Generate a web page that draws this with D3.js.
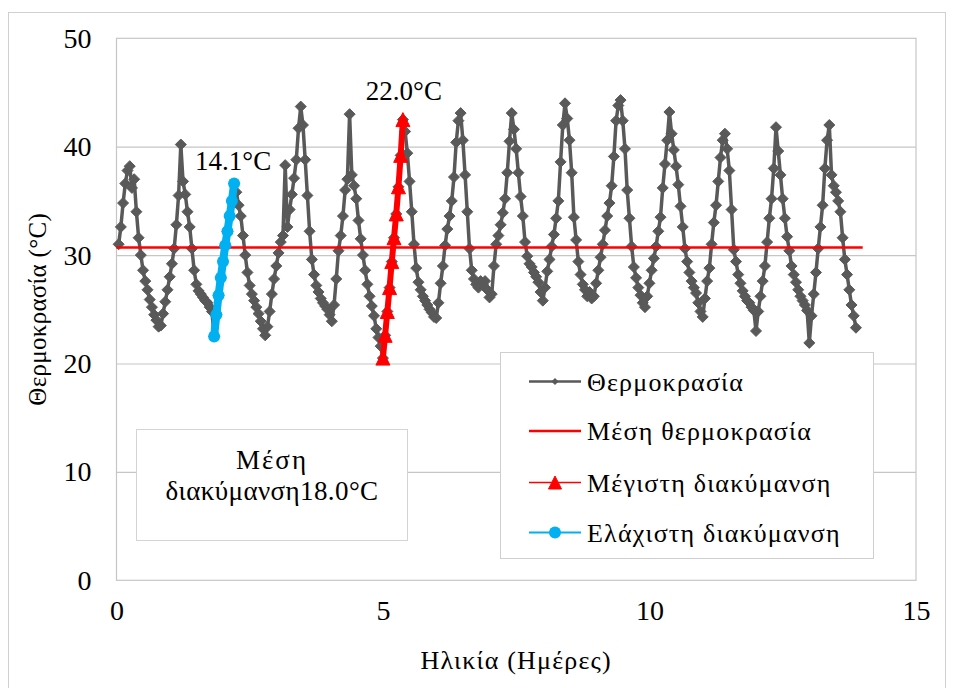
<!DOCTYPE html>
<html>
<head>
<meta charset="utf-8">
<script src="https://cdn.jsdelivr.net/npm/d3@7"></script>
<style>
  html, body { margin: 0; padding: 0; background: #ffffff; }
  svg { display: block; }
</style>
</head>
<body>
<svg id="chart" width="954" height="688"></svg>
<script>
// Hourly temperature record (°C); first reading at day 0.04, one reading per hour
const startDay = 0.04;
const stepDay = 1 / 24;
const temperature = [
  // day 0
  31.0, 32.6, 34.8, 36.6, 37.8, 38.2, 36.2, 37.0, 34.0, 31.6, 30.0, 28.6,
  27.6, 26.8, 25.9, 25.2, 24.5, 24.0, 23.4, 23.5, 24.6, 25.7, 26.8, 28.0,
  // day 1
  29.2, 30.6, 32.8, 35.5, 40.2, 36.8, 35.6, 34.0, 32.6, 30.6, 28.6, 27.3,
  26.7, 26.4, 26.1, 25.8, 25.6, 25.2, 24.8, 22.5, 24.5, 26.3, 27.9, 29.4,
  // day 2
  30.9, 32.2, 33.6, 35.0, 36.6, 35.8, 34.6, 33.6, 31.8, 30.0, 28.4, 27.2,
  26.4, 25.8, 25.2, 24.6, 23.9, 23.2, 22.6, 23.4, 24.8, 26.4, 27.8, 29.0,
  // day 3
  30.2, 31.2, 31.8, 38.3, 32.6, 34.2, 35.6, 37.1, 38.8, 41.7, 43.7, 42.0,
  38.8, 35.5, 32.2, 29.6, 28.2, 27.2, 26.6, 26.0, 25.6, 25.3, 25.0, 24.5,
  // day 4
  23.9, 25.4, 27.8, 30.4, 31.8, 33.6, 36.0, 37.0, 43.0, 37.4, 36.4, 35.2,
  33.2, 31.5, 30.0, 28.6, 27.3, 26.2, 25.3, 24.4, 23.2, 22.4, 21.6, 20.5,
  // day 5
  22.6, 24.8, 27.0, 29.4, 31.6, 33.8, 36.3, 39.2, 42.5, 41.4, 39.4, 36.8,
  34.0, 31.0, 28.8, 27.5, 26.8, 26.2, 25.8, 25.4, 25.0, 24.7, 24.3, 24.2,
  // day 6
  25.6, 27.4, 29.0, 30.9, 32.4, 33.6, 35.0, 37.2, 40.4, 42.4, 43.1, 40.6,
  37.4, 34.0, 30.6, 28.6, 27.8, 27.3, 27.0, 27.6, 27.3, 27.6, 26.8, 26.1,
  // day 7
  26.4, 29.0, 31.0, 31.8, 32.8, 33.9, 35.2, 37.6, 40.5, 43.1, 41.6, 39.8,
  37.6, 35.4, 33.6, 31.2, 29.9, 29.2, 28.9, 28.4, 28.0, 27.5, 26.6, 25.8,
  // day 8
  27.0, 28.5, 29.6, 30.8, 31.9, 33.4, 35.0, 38.6, 42.0, 44.0, 42.6, 40.6,
  37.6, 33.5, 31.4, 29.4, 28.2, 27.3, 26.8, 26.2, 26.6, 26.0, 26.2, 27.4,
  // day 9
  28.6, 29.8, 31.0, 32.3, 33.6, 34.8, 36.4, 39.1, 42.4, 43.8, 44.3, 42.4,
  39.8, 36.0, 33.4, 30.8, 28.9, 27.9, 27.0, 26.3, 25.6, 25.2, 26.2, 27.4,
  // day 10
  28.6, 29.7, 30.8, 32.2, 33.5, 36.2, 38.4, 40.6, 43.2, 41.2, 39.7, 38.2,
  36.5, 34.5, 32.6, 30.6, 29.4, 28.4, 27.6, 27.0, 26.5, 25.6, 24.8, 24.3,
  // day 11
  26.0, 27.6, 28.8, 31.0, 33.0, 34.6, 36.8, 39.0, 40.6, 41.2, 39.8, 37.8,
  34.2, 30.5, 29.4, 28.2, 27.4, 26.7, 26.2, 25.8, 25.6, 25.2, 24.9, 23.0,
  // day 12
  24.8, 26.2, 27.6, 29.0, 31.2, 33.4, 35.2, 38.0, 41.8, 39.6, 37.4, 35.2,
  33.4, 31.7, 30.4, 29.0, 28.2, 27.5, 26.8, 26.2, 25.8, 25.4, 24.9, 21.9,
  // day 13
  24.4, 26.4, 28.4, 30.6, 32.6, 34.6, 38.0, 40.6, 42.0, 37.4, 36.4, 35.8,
  35.0, 34.0, 31.6, 29.6, 28.2, 26.8, 25.4, 24.4, 23.3
];

// Mean temperature over the whole record
const meanTemp = 30.7;
const meanSpan = [0, 14];

// Day with the largest range and day with the smallest range (rising part)
const maxRangeStartHour = 119;
const maxRangeTemps = [20.5, 22.6, 24.8, 27.0, 29.4, 31.6, 33.8, 36.3, 39.2, 42.5];
const minRangeStartHour = 43;
const minRangeTemps = [22.5, 24.5, 26.3, 27.9, 29.4, 30.9, 32.2, 33.6, 35.0, 36.6];

const meanRangeLines = ["Μέση", "διακύμανση18.0°C"];

const xTicks = [0, 5, 10, 15];
const yTicks = [0, 10, 20, 30, 40, 50];
const xTitle = "Ηλικία (Ημέρες)";
const yTitle = "Θερμοκρασία (°C)";
const legendLabels = ["Θερμοκρασία", "Μέση θερμοκρασία", "Μέγιστη διακύμανση", "Ελάχιστη διακύμανση"];

// ---- colours & type ----
const GRAY = "#595959";
const RED = "#ff0000";
const BLUE = "#00b0f0";
const FRAME = "#c6c6c6";
const FONT = '"Liberation Serif", "DejaVu Serif", "Times New Roman", serif';

const svg = d3.select("#chart").attr("font-family", FONT);
const W = 954, H = 688;

svg.append("rect").attr("width", W).attr("height", H).attr("fill", "#fff");
// outer chart frame
svg.append("rect")
  .attr("x", 8.5).attr("y", 12.5).attr("width", 937).attr("height", 700)
  .attr("fill", "none").attr("stroke", "#d0d0d0").attr("stroke-width", 1);

const plot = { left: 116.5, right: 916, top: 38.3, bottom: 580.3 };

const x = d3.scaleLinear().domain([0, 15]).range([plot.left, plot.right]);
const y = d3.scaleLinear().domain([0, 50]).range([plot.bottom, plot.top]);

// horizontal gridlines
svg.append("g")
  .attr("transform", `translate(${plot.left},0)`)
  .call(d3.axisLeft(y).tickValues(yTicks.slice(1, -1)).tickSize(-(plot.right - plot.left)).tickFormat(""))
  .call(g => g.select(".domain").remove())
  .call(g => g.selectAll("line").attr("stroke", FRAME).attr("stroke-width", 1.2));

// plot frame
svg.append("rect")
  .attr("x", plot.left).attr("y", plot.top)
  .attr("width", plot.right - plot.left).attr("height", plot.bottom - plot.top)
  .attr("fill", "none").attr("stroke", FRAME).attr("stroke-width", 1.2);

// y axis labels
svg.append("g")
  .attr("transform", `translate(${plot.left},0)`)
  .call(d3.axisLeft(y).tickValues(yTicks).tickSize(0).tickPadding(25).tickFormat(d3.format("d")))
  .call(g => g.select(".domain").remove())
  .call(g => g.attr("font-family", FONT).attr("font-size", 28))
  .call(g => g.selectAll("text").attr("fill", "#000"));

// x axis labels
svg.append("g")
  .attr("transform", `translate(0,${plot.bottom})`)
  .call(d3.axisBottom(x).tickValues(xTicks).tickSize(0).tickPadding(20).tickFormat(d3.format("d")))
  .call(g => g.select(".domain").remove())
  .call(g => g.attr("font-family", FONT).attr("font-size", 28))
  .call(g => g.selectAll("text").attr("fill", "#000"));

// axis titles
svg.append("text")
  .attr("x", (plot.left + plot.right) / 2).attr("y", 669)
  .attr("text-anchor", "middle").attr("font-size", 26).attr("letter-spacing", 1.2)
  .text(xTitle);
svg.append("text")
  .attr("transform", `translate(46,${(plot.top + plot.bottom) / 2}) rotate(-90)`)
  .attr("text-anchor", "middle").attr("font-size", 25).attr("letter-spacing", 0.3)
  .text(yTitle);

// ---- series ----
const tempPts = temperature.map((v, i) => ({ d: startDay + i * stepDay, v }));
const maxPts = maxRangeTemps.map((v, i) => ({ d: startDay + (maxRangeStartHour + i) * stepDay, v }));
const minPts = minRangeTemps.map((v, i) => ({ d: startDay + (minRangeStartHour + i) * stepDay, v }));

const line = d3.line().x(p => x(p.d)).y(p => y(p.v));
const diamond = r => `M0,${-r}L${r},0L0,${r}L${-r},0Z`;
const triangle = r => `M0,${-r}L${r},${r}L${-r},${r}Z`;

// temperature: line with diamond markers
svg.append("path").datum(tempPts)
  .attr("d", line).attr("fill", "none")
  .attr("stroke", GRAY).attr("stroke-width", 3.5).attr("stroke-linejoin", "round");
svg.append("g").selectAll("path").data(tempPts).join("path")
  .attr("transform", p => `translate(${x(p.d)},${y(p.v)})`)
  .attr("d", diamond(5.5)).attr("fill", GRAY).attr("stroke", GRAY).attr("stroke-width", 1);

// mean temperature
svg.append("line")
  .attr("x1", x(meanSpan[0])).attr("x2", x(meanSpan[1]))
  .attr("y1", y(meanTemp)).attr("y2", y(meanTemp))
  .attr("stroke", RED).attr("stroke-width", 2.6);

// largest range segment
svg.append("path").datum(maxPts)
  .attr("d", line).attr("fill", "none").attr("stroke", RED).attr("stroke-width", 6);
svg.append("g").selectAll("path").data(maxPts).join("path")
  .attr("transform", p => `translate(${x(p.d)},${y(p.v)})`)
  .attr("d", triangle(7)).attr("fill", RED).attr("stroke", RED).attr("stroke-width", 1).attr("stroke-linejoin", "round");

// smallest range segment
svg.append("path").datum(minPts)
  .attr("d", line).attr("fill", "none").attr("stroke", BLUE).attr("stroke-width", 8).attr("stroke-linecap", "round");
svg.append("g").selectAll("circle").data(minPts).join("circle")
  .attr("cx", p => x(p.d)).attr("cy", p => y(p.v)).attr("r", 6).attr("fill", BLUE);

// range labels, taken from the segments themselves
const rangeOf = pts => (d3.max(pts, p => p.v) - d3.min(pts, p => p.v)).toFixed(1) + "°C";
const topOf = pts => pts.reduce((a, b) => (b.v > a.v ? b : a));
const maxTop = topOf(maxPts), minTop = topOf(minPts);
svg.append("text")
  .attr("x", x(maxTop.d) + 1).attr("y", y(maxTop.v) - 20)
  .attr("text-anchor", "middle").attr("font-size", 27)
  .text(rangeOf(maxPts));
svg.append("text")
  .attr("x", x(minTop.d) - 1).attr("y", y(minTop.v) - 14)
  .attr("text-anchor", "middle").attr("font-size", 27)
  .text(rangeOf(minPts));

// mean range note
const note = svg.append("g");
note.append("rect")
  .attr("x", 136.5).attr("y", 429.5).attr("width", 271).attr("height", 111)
  .attr("fill", "#fff").attr("stroke", "#d4d4d4").attr("stroke-width", 1);
note.selectAll("text").data(meanRangeLines).join("text")
  .attr("x", 272).attr("y", (d, i) => 469 + i * 31)
  .attr("text-anchor", "middle").attr("font-size", 27).attr("letter-spacing", (d, i) => (i === 0 ? 2 : 0.4))
  .text(d => d);

// legend
const lg = svg.append("g");
lg.append("rect")
  .attr("x", 500.5).attr("y", 352.5).attr("width", 373).attr("height", 206)
  .attr("fill", "#fff").attr("stroke", "#cfcfcf").attr("stroke-width", 1);
const rowsY = [381.5, 431, 482.5, 532.5];
const lx1 = 529, lx2 = 581, lxm = 555;
legendLabels.forEach((lab, i) => {
  const ry = rowsY[i];
  const g = lg.append("g");
  if (i === 0) {
    g.append("line").attr("x1", lx1).attr("x2", lx2).attr("y1", ry).attr("y2", ry).attr("stroke", GRAY).attr("stroke-width", 2.5);
    g.append("path").attr("transform", `translate(${lxm},${ry})`).attr("d", diamond(3.6)).attr("fill", GRAY);
  } else if (i === 1) {
    g.append("line").attr("x1", lx1).attr("x2", lx2).attr("y1", ry).attr("y2", ry).attr("stroke", RED).attr("stroke-width", 2.6);
  } else if (i === 2) {
    g.append("line").attr("x1", lx1).attr("x2", lx2).attr("y1", ry).attr("y2", ry).attr("stroke", RED).attr("stroke-width", 1.5);
    g.append("path").attr("transform", `translate(${lxm},${ry})`).attr("d", triangle(6.5)).attr("fill", RED).attr("stroke", RED).attr("stroke-linejoin", "round");
  } else {
    g.append("line").attr("x1", lx1).attr("x2", lx2).attr("y1", ry).attr("y2", ry).attr("stroke", BLUE).attr("stroke-width", 2);
    g.append("circle").attr("cx", lxm).attr("cy", ry).attr("r", 6).attr("fill", BLUE);
  }
  g.append("text").attr("x", 587).attr("y", ry + 9).attr("font-size", 26).attr("letter-spacing", 1.2).text(lab);
});
</script>
</body>
</html>
